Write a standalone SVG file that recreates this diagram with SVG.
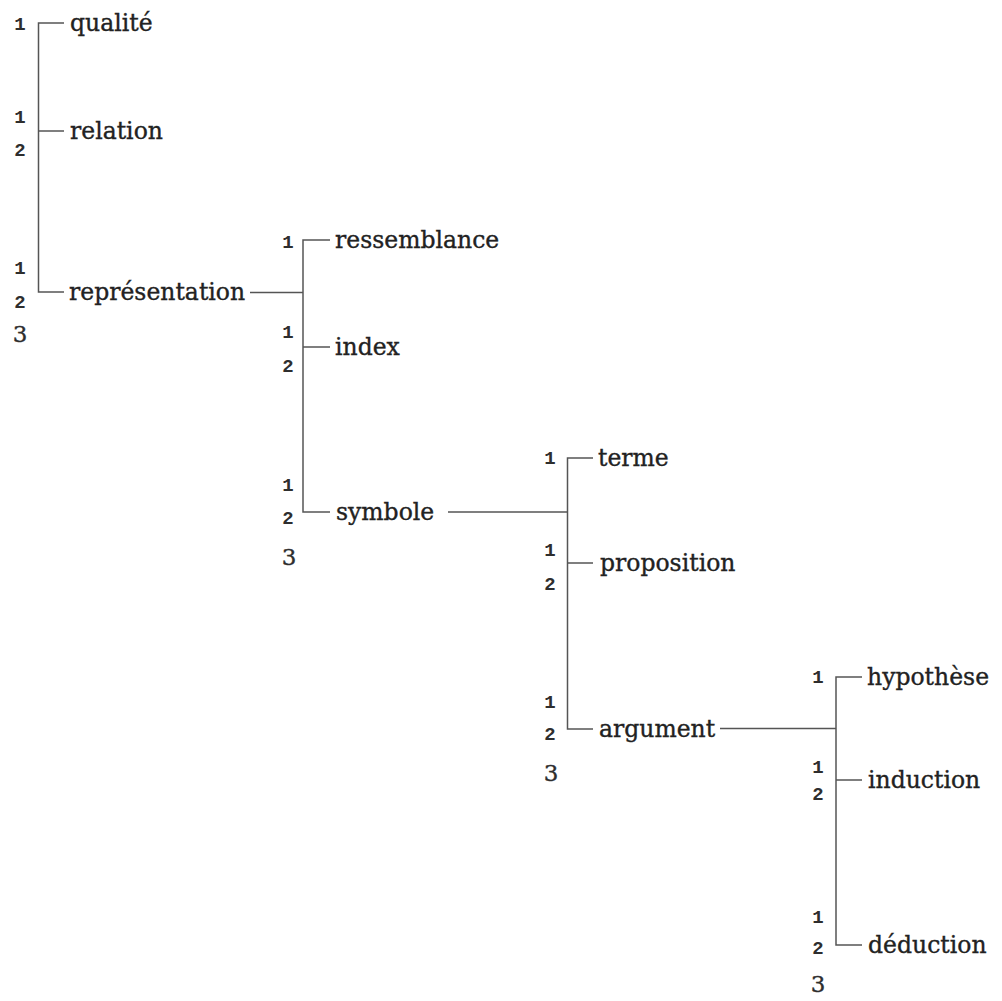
<svg xmlns="http://www.w3.org/2000/svg" width="1002" height="1001" viewBox="0 0 1002 1001">
  <style>
    .lbl { font-family: "DejaVu Serif", "Liberation Serif", serif; font-size: 23.5px; fill: #222222; stroke: #222222; stroke-width: 0.35; }
    .num { font-family: "Liberation Mono", "DejaVu Sans Mono", monospace; font-weight: bold; font-size: 19px; fill: #2e2e2e; text-anchor: middle; }
    .n3 { font-family: "DejaVu Serif", "Liberation Serif", serif; font-size: 23px; fill: #2e2e2e; stroke: #2e2e2e; stroke-width: 0.35; text-anchor: middle; }
    .ln { stroke: #555555; stroke-width: 1.5; fill: none; }
  </style>
  <rect width="1002" height="1001" fill="#ffffff"/>

  <!-- brackets and links -->
  <g id="connectors">
    <!-- level 1 -->
    <path class="ln" d="M64 23 H38.5 V292 H64"/>
    <path class="ln" d="M38.5 131 H64"/>
    <path class="ln" d="M250 292.5 H303"/>
    <!-- level 2 -->
    <path class="ln" d="M330 240 H303 V512 H330"/>
    <path class="ln" d="M303 347 H330"/>
    <path class="ln" d="M448 512 H567.5"/>
    <!-- level 3 -->
    <path class="ln" d="M593 458 H567.5 V729 H593"/>
    <path class="ln" d="M567.5 563 H593"/>
    <path class="ln" d="M720 728.5 H836"/>
    <!-- level 4 -->
    <path class="ln" d="M862 677 H836 V945 H862"/>
    <path class="ln" d="M836 780 H862"/>
  </g>

  <!-- level 1 -->
  <g id="qualite">
    <text class="num" x="20" y="30">1</text>
    <text class="lbl" x="70" y="31">qualité</text>
  </g>
  <g id="relation">
    <text class="num" x="20" y="123">1</text>
    <text class="num" x="20" y="156">2</text>
    <text class="lbl" x="70" y="139">relation</text>
  </g>
  <g id="representation">
    <text class="num" x="20" y="274">1</text>
    <text class="num" x="20" y="308">2</text>
    <text class="n3" x="20" y="342">3</text>
    <text class="lbl" x="69" y="300">représentation</text>
  </g>

  <!-- level 2 -->
  <g id="ressemblance">
    <text class="num" x="288" y="248">1</text>
    <text class="lbl" x="335" y="248">ressemblance</text>
  </g>
  <g id="index">
    <text class="num" x="288" y="338">1</text>
    <text class="num" x="288" y="372">2</text>
    <text class="lbl" x="335" y="355">index</text>
  </g>
  <g id="symbole">
    <text class="num" x="288" y="491">1</text>
    <text class="num" x="288" y="524">2</text>
    <text class="n3" x="289" y="565">3</text>
    <text class="lbl" x="336" y="520">symbole</text>
  </g>

  <!-- level 3 -->
  <g id="terme">
    <text class="num" x="550" y="464">1</text>
    <text class="lbl" x="598" y="466">terme</text>
  </g>
  <g id="proposition">
    <text class="num" x="550" y="556">1</text>
    <text class="num" x="550" y="590">2</text>
    <text class="lbl" x="600" y="571">proposition</text>
  </g>
  <g id="argument">
    <text class="num" x="550" y="708">1</text>
    <text class="num" x="550" y="740">2</text>
    <text class="n3" x="551" y="781">3</text>
    <text class="lbl" x="599" y="737">argument</text>
  </g>

  <!-- level 4 -->
  <g id="hypothese">
    <text class="num" x="818" y="683">1</text>
    <text class="lbl" x="867" y="685">hypothèse</text>
  </g>
  <g id="induction">
    <text class="num" x="818" y="773">1</text>
    <text class="num" x="818" y="800">2</text>
    <text class="lbl" x="868" y="788">induction</text>
  </g>
  <g id="deduction">
    <text class="num" x="818" y="923">1</text>
    <text class="num" x="818" y="954">2</text>
    <text class="n3" x="818" y="992">3</text>
    <text class="lbl" x="868" y="953">déduction</text>
  </g>
</svg>
